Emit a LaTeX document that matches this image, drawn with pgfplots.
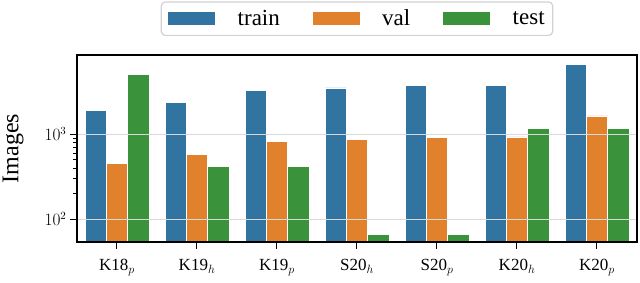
\documentclass[border=0pt]{standalone}
\usepackage{fontspec}
\setmainfont{Liberation Serif}
\usepackage{pgfplots}
\pgfplotsset{compat=1.18}
\definecolor{cblue}{HTML}{3274A1}
\definecolor{corange}{HTML}{E1812C}
\definecolor{cgreen}{HTML}{3A923A}
\begin{document}
\begin{tikzpicture}
\useasboundingbox (-77pt,-41pt) rectangle (563pt,242pt);
\begin{axis}[at={(0pt,0pt)}, anchor=south west,
  width=560pt, height=187pt, scale only axis,
  axis on top,
  ymode=log, ymin=54, ymax=8570, xmin=-0.5, xmax=6.5,
  ybar=0pt, bar width=21.33pt,
  xtick={0,...,6},
  xticklabels={K18$_p$,K19$_h$,K19$_p$,S20$_h$,S20$_p$,K20$_h$,K20$_p$},
  ytick={100,1000},
  xmajorticks=true, ymajorticks=true, yminorticks=true,
  xtick pos=left, ytick pos=left,
  tick align=outside,
  major tick length=7pt, minor tick length=4pt,
  every major tick/.append style={black, line width=1pt},
  every minor tick/.append style={black, line width=0.8pt},
  axis line style={black, line width=1.2pt},
  ymajorgrids, major grid style={gray!30, line width=1pt},
  ylabel={Images},
  ylabel style={font=\fontsize{24}{26}\selectfont, at={(axis description cs:-0.114,0.5)}, anchor=center},
  xticklabel style={font=\fontsize{17}{19}\selectfont, yshift=-7pt},
  yticklabel style={font=\fontsize{16}{18}\selectfont},
  legend columns=3,
  legend style={at={(axis description cs:0.5,1.1016)}, anchor=south,
    draw=gray!35, line width=1.2pt, rounded corners=4pt,
    font=\fontsize{23}{25}\selectfont,
    inner xsep=6pt, inner ysep=6pt,
    /tikz/every odd column/.append style={column sep=20pt},
    /tikz/every even column/.append style={column sep=30pt}},
  legend image code/.code={\fill[#1, sharp corners] (0pt,-7pt) rectangle (48pt,7pt);},
]
\addplot[fill=cblue, draw=white, line width=0.4pt] coordinates {(0,1896) (1,2375) (2,3296) (3,3511) (4,3736) (5,3770) (6,6668)};
\addplot[fill=corange, draw=white, line width=0.4pt] coordinates {(0,459) (1,582) (2,818) (3,873) (4,912) (5,930) (6,1642)};
\addplot[fill=cgreen, draw=white, line width=0.4pt] coordinates {(0,5117) (1,421) (2,421) (3,67) (4,67) (5,1177) (6,1177)};
\legend{train,val,test}
\end{axis}
\end{tikzpicture}
\end{document}
